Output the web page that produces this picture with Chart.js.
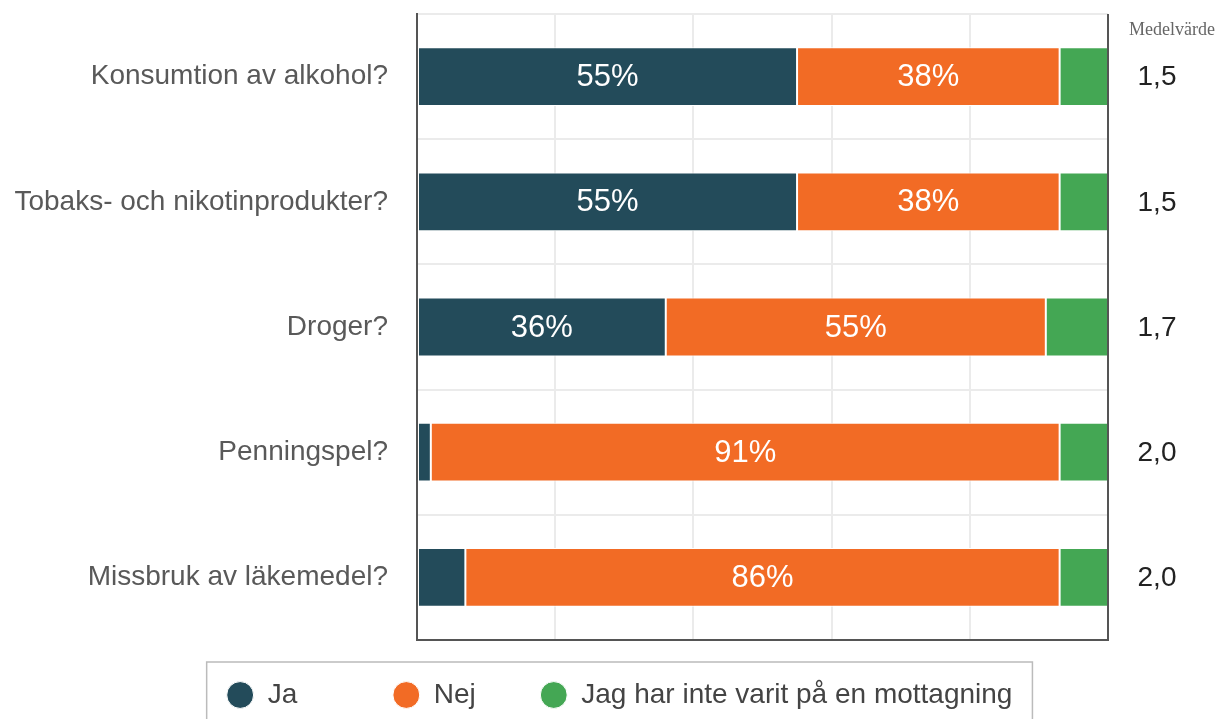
<!DOCTYPE html>
<html lang="sv">
<head>
<meta charset="UTF-8">
<title>Medelvärde</title>
<script src="https://cdn.jsdelivr.net/npm/chart.js"></script>
<style>
  html, body { margin: 0; padding: 0; background: #fff; }
  #wrap { width: 1222px; height: 719px; position: relative; }
</style>
</head>
<body>
<div id="wrap"><canvas id="myChart"></canvas></div>
<script>
  // data
  const categories = ['Konsumtion av alkohol?', 'Tobaks- och nikotinprodukter?', 'Droger?', 'Penningspel?', 'Missbruk av läkemedel?'];
  const jaValues = [55, 55, 36, 2, 7];
  const nejValues = [38, 38, 55, 91, 86];
  const ejMottagningValues = [7, 7, 9, 7, 7];
  const meanValues = ['1,5', '1,5', '1,7', '2,0', '2,0'];
  const meanTitle = 'Medelvärde';

  const sans = '"Liberation Sans", Arial, sans-serif';
  // extra blank space after each legend text so the items sit like in the original
  const legendGaps = [11, 7, 11];

  // draws the percent labels, right border, mean column and legend frame
  const extras = {
    id: 'extras',
    afterDatasetsDraw(chart) {
      const ctx = chart.ctx;
      const area = chart.chartArea;
      ctx.save();
      ctx.fillStyle = '#fff';
      ctx.font = '31px ' + sans;
      ctx.textAlign = 'center';
      ctx.textBaseline = 'middle';
      chart.data.datasets.forEach((ds, i) => {
        chart.getDatasetMeta(i).data.forEach((bar, j) => {
          if (ds.data[j] < 10) return;
          ctx.fillText(ds.data[j] + '%', (bar.x + bar.base) / 2, bar.y + 1);
        });
      });

      // right frame line
      ctx.strokeStyle = '#555';
      ctx.lineWidth = 2;
      ctx.beginPath();
      ctx.moveTo(area.right, area.top);
      ctx.lineTo(area.right, area.bottom + 1);
      ctx.stroke();

      // mean column
      const yScale = chart.scales.y;
      ctx.fillStyle = '#666';
      ctx.font = '18px "Liberation Serif", "Times New Roman", serif';
      ctx.fillText(meanTitle, 1172, 30);
      ctx.fillStyle = '#222';
      ctx.font = '28px ' + sans;
      meanValues.forEach((v, j) => {
        ctx.fillText(v, 1157, yScale.getPixelForValue(j) + 1);
      });

      // legend frame
      const hb = chart.legend.legendHitBoxes;
      if (hb && hb.length) {
        const first = hb[0];
        const last = hb[hb.length - 1];
        const lastText = chart.data.datasets[hb.length - 1].label;
        const right = last.left + 27 + 14 + ctx.measureText(lastText).width + 20;
        ctx.strokeStyle = '#bbb';
        ctx.lineWidth = 1.5;
        ctx.strokeRect(first.left - 20, chart.legend.top - 9, right - (first.left - 20), 80);
      }
      ctx.restore();
    }
  };

  const ctx = document.getElementById('myChart').getContext('2d');
  const myChart = new Chart(ctx, {
    type: 'bar',
    data: {
      labels: categories,
      datasets: [{
        label: 'Ja',
        data: jaValues,
        backgroundColor: '#234b5a',
        borderColor: '#ffffff',
        borderWidth: 1,
        borderSkipped: false
      }, {
        label: 'Nej',
        data: nejValues,
        backgroundColor: '#f26b25',
        borderColor: '#ffffff',
        borderWidth: 1,
        borderSkipped: false
      }, {
        label: 'Jag har inte varit på en mottagning',
        data: ejMottagningValues,
        backgroundColor: '#44a754',
        borderColor: '#ffffff',
        borderWidth: 1,
        borderSkipped: false
      }]
    },
    options: {
      indexAxis: 'y',
      responsive: true,
      maintainAspectRatio: false,
      animation: false,
      barPercentage: 0.47,
      categoryPercentage: 1,
      layout: { padding: { left: 0, right: 114, top: 14, bottom: 0 } },
      scales: {
        x: {
          stacked: true,
          min: 0,
          max: 100,
          ticks: { display: false, stepSize: 20 },
          grid: { color: '#ebebeb', lineWidth: 2, drawTicks: false },
          border: { color: '#555', width: 2 },
          afterFit(scale) { scale.height = 31; }
        },
        y: {
          stacked: true,
          ticks: {
            color: '#595959',
            font: { family: sans, size: 28, lineHeight: 1 },
            padding: 0
          },
          grid: { color: '#ebebeb', lineWidth: 2, drawTicks: true, tickLength: 29, tickColor: 'rgba(0,0,0,0)' },
          border: { color: '#555', width: 2 },
          afterFit(scale) { scale.width = 417; }
        }
      },
      plugins: {
        legend: {
          position: 'bottom',
          align: 'end',
          labels: {
            usePointStyle: true,
            pointStyle: 'circle',
            boxWidth: 27,
            boxHeight: 19,
            padding: 10,
            color: '#444',
            font: { family: sans, size: 28 },
            generateLabels(chart) {
              const items = Chart.defaults.plugins.legend.labels.generateLabels(chart);
              items.forEach((item, i) => { item.text = item.text + ' '.repeat(legendGaps[i]); });
              return items;
            }
          }
        },
        tooltip: { enabled: false }
      }
    },
    plugins: [extras]
  });
</script>
</body>
</html>
